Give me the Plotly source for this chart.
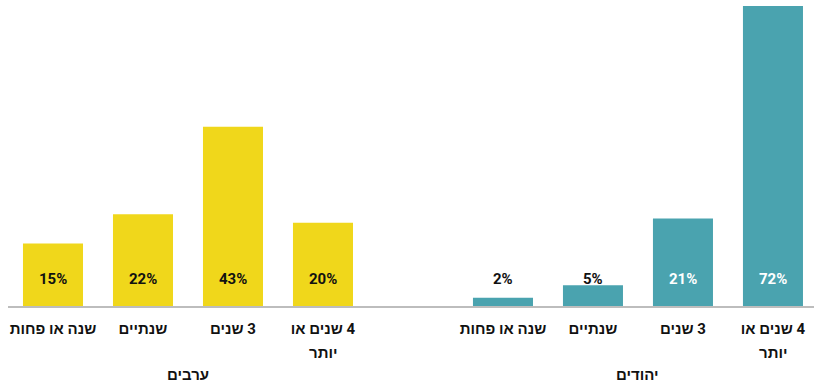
import plotly.graph_objects as go

# Survey shares by duration, two population groups
durations = ["שנה או פחות", "שנתיים", "3 שנים", "4 שנים או|יותר"]
groups = ["ערבים", "יהודים"]
arab_values = [15, 22, 43, 20]
jewish_values = [2, 5, 21, 72]

YELLOW = "#F0D71B"
TEAL = "#4AA3AF"
FONT = "Roboto, 'Liberation Sans', Arial, sans-serif"
RLM = "\u200f"


def bold(s):
    return f"<b>{s}</b>"


arab_x = [0, 1, 2, 3]
jewish_x = [5, 6, 7, 8]

fig = go.Figure()
fig.add_trace(go.Bar(x=arab_x, y=arab_values, marker=dict(color=YELLOW, line=dict(width=0)),
                     width=0.667, hoverinfo="skip"))
fig.add_trace(go.Bar(x=jewish_x, y=jewish_values, marker=dict(color=TEAL, line=dict(width=0)),
                     width=0.667, hoverinfo="skip"))

annotations = []
label_level = 6.5  # value labels sit on a common line near the baseline
for xs, vals, inside_color in [(arab_x, arab_values, "#111111"), (jewish_x, jewish_values, "#FFFFFF")]:
    for x, v in zip(xs, vals):
        color = inside_color if v > label_level + 3 else "#111111"
        annotations.append(dict(x=x, y=label_level, xref="x", yref="y", text=bold(f"{v}%"),
                                showarrow=False, font=dict(family=FONT, size=15, color=color),
                                yanchor="middle"))

first_lines = [d.split("|")[0] for d in durations]
tick_vals = arab_x + jewish_x
tick_text = [bold(RLM + t) for t in first_lines] * 2

# second lines of wrapped category labels
for xs in (arab_x, jewish_x):
    for x, d in zip(xs, durations):
        parts = d.split("|")
        if len(parts) > 1:
            annotations.append(dict(x=x, y=0, xref="x", yref="y", text=bold(RLM + parts[1]),
                                    showarrow=False, yshift=-47, yanchor="middle",
                                    font=dict(family=FONT, size=15, color="#111111")))

# group titles under each block of bars
for center, name in zip([1.5, 6.5], groups):
    annotations.append(dict(x=center, y=0, xref="x", yref="y", text=bold(RLM + name),
                            showarrow=False, yshift=-69, yanchor="middle",
                            font=dict(family=FONT, size=15, color="#111111")))

fig.update_layout(
    width=814, height=384,
    margin=dict(l=8, r=0, t=6, b=78),
    plot_bgcolor="white", paper_bgcolor="white",
    showlegend=False,
    bargap=0.333,
    annotations=annotations,
    xaxis=dict(range=[-0.5, 8.456], tickvals=tick_vals, ticktext=tick_text,
               showgrid=False, zeroline=False, showline=True, linecolor="#BDBDBD", linewidth=2,
               ticks="", tickfont=dict(family=FONT, size=15, color="#111111"),
               ticklabelstandoff=8, fixedrange=True),
    yaxis=dict(range=[0, 72], showgrid=False, zeroline=False, showline=False,
               showticklabels=False, fixedrange=True),
)

fig.write_html("out.html")
